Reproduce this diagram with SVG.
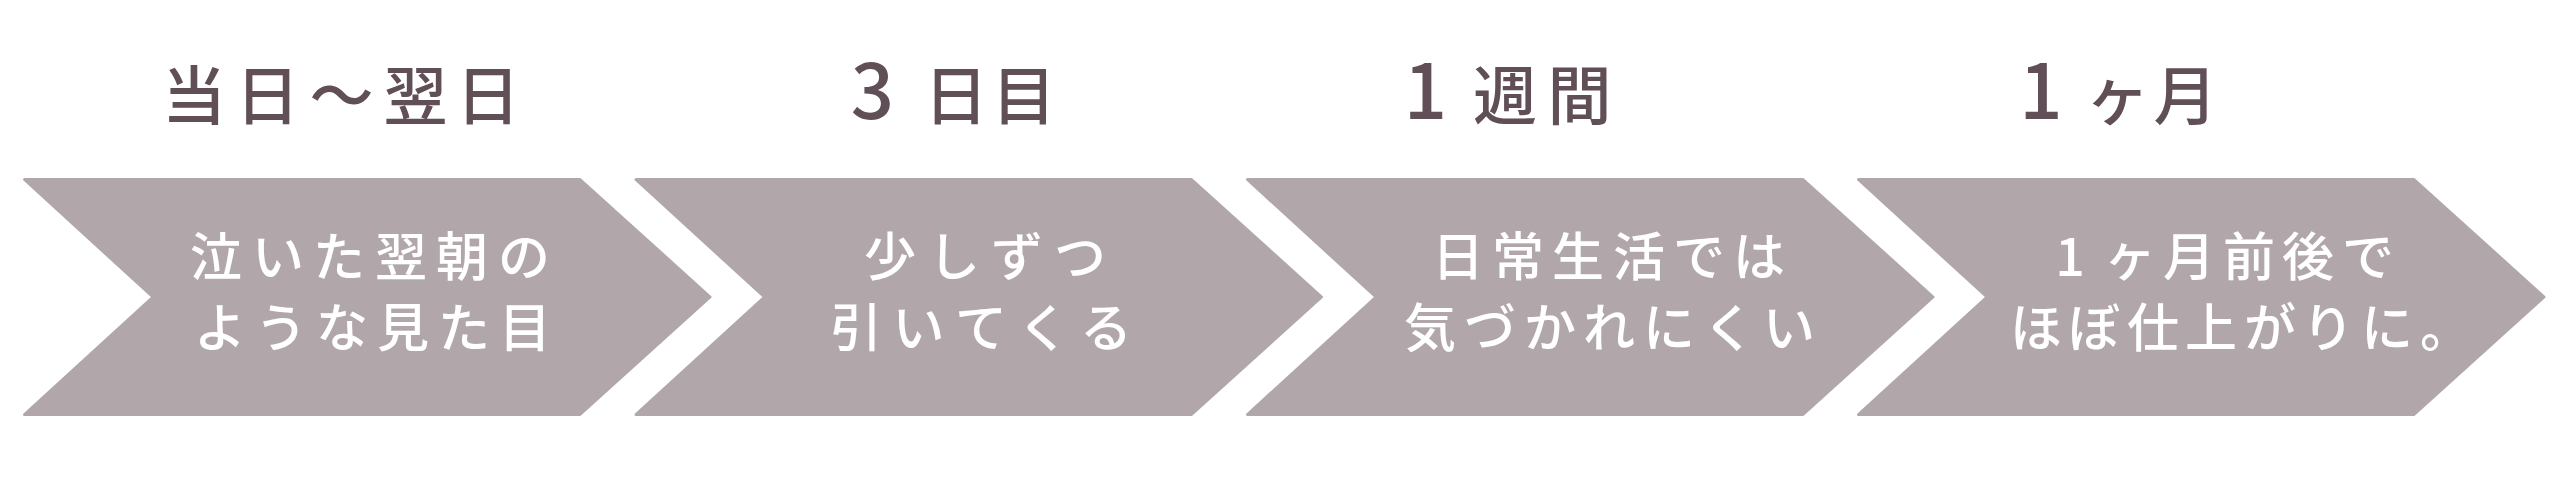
<svg xmlns="http://www.w3.org/2000/svg" width="2560" height="503" viewBox="0 0 2560 503">
<style>
.arrow{fill:#b1a7ab;stroke:#b1a7ab;stroke-width:3;stroke-linejoin:round}
.head{font-family:"Noto Sans CJK JP","Noto Sans CJK SC",sans-serif;font-size:64px;font-weight:500;fill:#614f57;text-anchor:middle}
.dig{font-size:76px}
.body{font-family:"Noto Sans CJK JP","Noto Sans CJK SC",sans-serif;font-size:52px;font-weight:500;fill:#ffffff;text-anchor:middle}
</style>
<rect width="2560" height="503" fill="#ffffff"/>
<g id="connectors"/>
<g id="node1">
<polygon class="arrow" points="24.5,179.5 580,179.5 710,297 580,414.5 24.5,414.5 153,297"/>
<text class="head" x="194 267.5 341.5 415.5 488" y="119">当日〜翌日</text>
<text class="body" x="216 278 339 401 462 524" y="276">泣いた翌朝の</text>
<text class="body" x="220 281 342 403 464 525" y="347">ような見た目</text>
</g>
<g id="node2">
<polygon class="arrow" points="636,179.5 1191.5,179.5 1321.5,297 1191.5,414.5 636,414.5 764.5,297"/>
<text class="head" y="119"><tspan class="dig" x="872.5">3</tspan><tspan x="956 1024">日目</tspan></text>
<text class="body" x="890 954 1017 1080" y="276">少しずつ</text>
<text class="body" x="856 918.5 981 1043.5 1106" y="347">引いてくる</text>
</g>
<g id="node3">
<polygon class="arrow" points="1247.5,179.5 1803,179.5 1933,297 1803,414.5 1247.5,414.5 1376,297"/>
<text class="head" y="119"><tspan class="dig" x="1425.5">1</tspan><tspan x="1505 1579.5">週間</tspan></text>
<text class="body" x="1458 1518 1578 1639 1699 1759" y="276">日常生活では</text>
<text class="body" x="1430 1490 1550 1609 1669 1729 1789" y="347">気づかれにくい</text>
</g>
<g id="node4">
<polygon class="arrow" points="1858.5,179.5 2414,179.5 2544,297 2414,414.5 1858.5,414.5 1987,297"/>
<text class="head" y="119"><tspan class="dig" x="2041">1</tspan><tspan x="2117.5 2185.5">ヶ月</tspan></text>
<text class="body" x="2070 2130 2189 2249 2308 2368" y="276">1ヶ月前後で</text>
<text class="body" x="2036 2094 2153 2211 2270 2328 2387 2446" y="347">ほぼ仕上がりに。</text>
</g>
</svg>
